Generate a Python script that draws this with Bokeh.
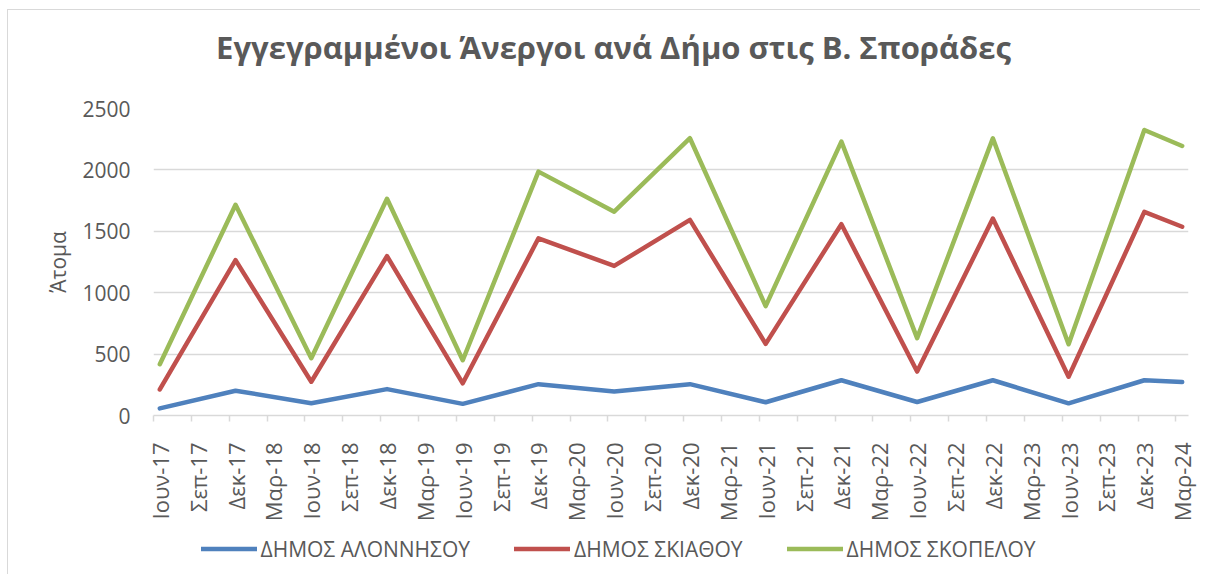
import math
from bokeh.plotting import figure
from bokeh.layouts import column
from bokeh.models import FixedTicker, Range1d, Legend, LegendItem, Label
from bokeh.embed import file_html
from bokeh.resources import INLINE

# ---- data ----
title_text = "Εγγεγραμμένοι Άνεργοι ανά Δήμο στις Β. Σποράδες"
tick_labels = ["Ιουν-17", "Σεπ-17", "Δεκ-17", "Μαρ-18", "Ιουν-18", "Σεπ-18", "Δεκ-18",
               "Μαρ-19", "Ιουν-19", "Σεπ-19", "Δεκ-19", "Μαρ-20", "Ιουν-20", "Σεπ-20",
               "Δεκ-20", "Μαρ-21", "Ιουν-21", "Σεπ-21", "Δεκ-21", "Μαρ-22", "Ιουν-22",
               "Σεπ-22", "Δεκ-22", "Μαρ-23", "Ιουν-23", "Σεπ-23", "Δεκ-23", "Μαρ-24"]
periods = ["Ιουν-17", "Δεκ-17", "Ιουν-18", "Δεκ-18", "Ιουν-19", "Δεκ-19", "Ιουν-20",
           "Δεκ-20", "Ιουν-21", "Δεκ-21", "Ιουν-22", "Δεκ-22", "Ιουν-23", "Δεκ-23", "Μαρ-24"]
alonnisos = [58, 202, 100, 215, 95, 255, 195, 255, 108, 287, 110, 287, 99, 287, 272]
skiathos = [212, 1265, 275, 1298, 262, 1443, 1218, 1593, 583, 1558, 358, 1604, 316, 1658, 1537]
skopelos = [418, 1716, 466, 1765, 450, 1986, 1660, 2258, 891, 2230, 630, 2257, 580, 2325, 2195]
series_names = ["ΔΗΜΟΣ ΑΛΟΝΝΗΣΟΥ", "ΔΗΜΟΣ ΣΚΙΑΘΟΥ", "ΔΗΜΟΣ ΣΚΟΠΕΛΟΥ"]
colors = ["#4F81BD", "#C0504D", "#9BBB59"]
y_ticks = [0, 500, 1000, 1500, 2000, 2500]
y_label = "Άτομα"

FONT = "Open Sans"
TXT = "#595959"
GRID = "#D9D9D9"

OX, OY = 8, 10            # chart box offset inside the page (box has a thin border)
W = 1192
FRAME_L, FRAME_R = 153, 1188   # page x of plot frame
BL = FRAME_L - OX
BR = OX + W - FRAME_R

# month index (quarterly tick labels are 3 months apart)
tick_pos = [3 * i for i in range(len(tick_labels))]
xs = [3 * tick_labels.index(p) for p in periods]
n_months = tick_pos[-1] + 1


def blank_fig(h):
    f = figure(width=W, height=h, output_backend="svg", toolbar_location=None,
               x_range=Range1d(FRAME_L, FRAME_R), y_range=Range1d(0, h),
               x_axis_type=None, y_axis_type=None,
               min_border_left=BL, min_border_right=BR, min_border_top=0, min_border_bottom=0)
    f.outline_line_color = None
    f.background_fill_color = "white"
    f.border_fill_color = "white"
    return f


# ---- title strip ----
tf = blank_fig(70)
tf.add_layout(Label(x=613, y=33.5, text=title_text, text_align="center",
                    text_baseline="alphabetic", text_font=FONT, text_font_size="31px",
                    text_font_style="bold", text_color=TXT))

# ---- main chart ----
p = figure(width=W, height=445, output_backend="svg", toolbar_location=None,
           x_range=Range1d(-0.5, n_months - 0.5), y_range=Range1d(0, 2500),
           min_border_left=BL, min_border_right=BR, min_border_top=28,
           min_border_bottom=110)
p.outline_line_color = None
p.background_fill_color = "white"
p.border_fill_color = "white"

renderers = []
for vals, c in zip([alonnisos, skiathos, skopelos], colors):
    r = p.line(xs, vals, line_color=c, line_width=4.5, line_join="round", line_cap="round")
    renderers.append(r)

xt = FixedTicker(ticks=tick_pos, minor_ticks=[t_ - 0.5 for t_ in tick_pos])
p.xaxis.ticker = xt
p.xaxis.major_label_overrides = {tp: lab for tp, lab in zip(tick_pos, tick_labels)}
p.xaxis.major_label_orientation = math.pi / 2
p.xaxis.major_label_text_font = FONT
p.xaxis.major_label_text_font_size = "22px"
p.xaxis.major_label_text_color = TXT
p.xaxis.major_label_standoff = 21
p.xaxis.major_tick_out = 0
p.xaxis.major_tick_in = 0
p.xaxis.minor_tick_out = 6
p.xaxis.minor_tick_in = 0
p.xaxis.minor_tick_line_color = GRID
p.xaxis.minor_tick_line_width = 1.5
p.xaxis.axis_line_color = GRID
p.xaxis.axis_line_width = 1.5
p.xgrid.grid_line_color = None

p.yaxis.ticker = FixedTicker(ticks=y_ticks)
p.yaxis.major_label_text_font = FONT
p.yaxis.major_label_text_font_size = "21px"
p.yaxis.major_label_text_color = TXT
p.yaxis.major_label_standoff = 23
p.yaxis.major_tick_out = 0
p.yaxis.major_tick_in = 0
p.yaxis.minor_tick_line_color = None
p.yaxis.axis_line_color = None
p.yaxis.axis_label = y_label
p.yaxis.axis_label_text_font = FONT
p.yaxis.axis_label_text_font_size = "21px"
p.yaxis.axis_label_text_font_style = "normal"
p.yaxis.axis_label_text_color = TXT
p.yaxis.axis_label_standoff = 7
p.ygrid.grid_line_color = GRID
p.ygrid.grid_line_width = 1.5

# ---- legend strip (hidden copies of the series supply the legend glyphs) ----
lf = blank_fig(49)
proxies = [lf.line(xs, vals, line_color=c, line_width=4.5, line_cap="round", visible=False)
           for vals, c in zip([alonnisos, skiathos, skopelos], colors)]
legend = Legend(items=[LegendItem(label=n, renderers=[r]) for n, r in zip(series_names, proxies)],
                orientation="horizontal", location=(48, 11), glyph_width=56, glyph_height=21,
                label_standoff=4, spacing=44, padding=0, margin=0,
                label_text_font=FONT, label_text_font_size="21px", label_text_color=TXT,
                border_line_color=None, background_fill_color=None, background_fill_alpha=0)
lf.add_layout(legend, "center")

layout = column(tf, p, lf, spacing=0,
                styles={"border-top": "1.5px solid #D9D9D9", "border-left": "1.5px solid #D9D9D9",
                        "margin-left": f"{OX - 1.5}px", "margin-top": f"{OY - 1.5}px",
                        "background-color": "#FFFFFF"})

open("out.html", "w").write(file_html(layout, INLINE))
